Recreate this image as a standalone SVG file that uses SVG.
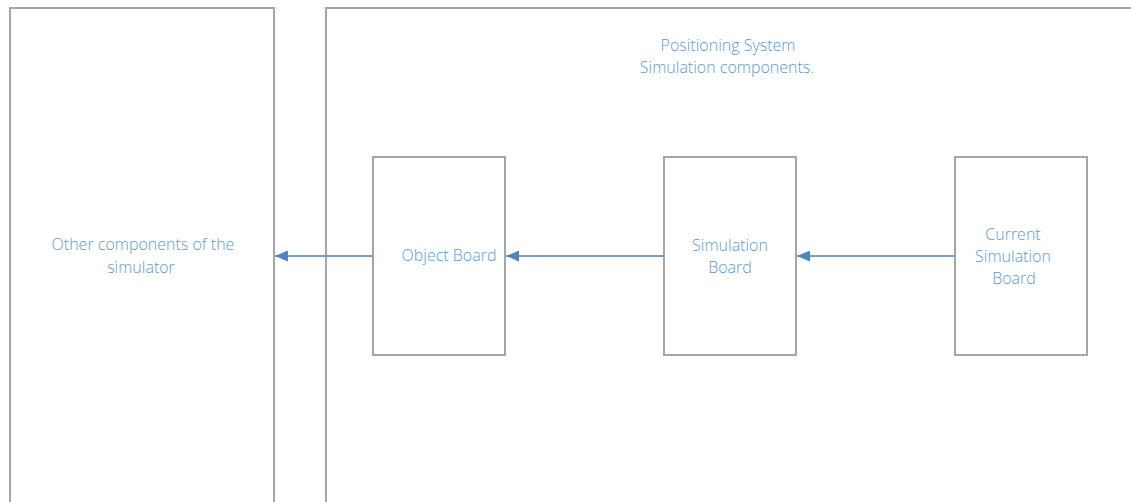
<svg xmlns="http://www.w3.org/2000/svg" width="1131" height="502" viewBox="0 0 1131 502">
<style>
.box{fill:#fff;stroke:#a6a6a6;stroke-width:2}
.lbl{font-family:"Open Sans","Liberation Sans",sans-serif;font-size:16px;font-weight:300;fill:#5b9bd5;text-anchor:middle}
.con{stroke:#7aa0c8;stroke-width:2;fill:none}
</style>
<defs>
<marker id="ah" viewBox="0 0 10 10" refX="10" refY="5" markerWidth="6.5" markerHeight="5.5" orient="auto" markerUnits="strokeWidth" preserveAspectRatio="none">
<path d="M10,5 L0,0 L0,10 Z" fill="#4f86c0"/>
</marker>
</defs>
<rect width="1131" height="502" fill="#fff"/>
<g id="other">
<rect class="box" x="10" y="8" width="264" height="510"/>
<text class="lbl" x="143" y="250">Other components of the</text>
<text class="lbl" x="141" y="273">simulator</text>
</g>
<g id="positioning">
<rect class="box" x="326" y="8" width="830" height="510"/>
<text class="lbl" x="728" y="51">Positioning System</text>
<text class="lbl" x="727" y="73">Simulation components.</text>
</g>
<g id="object-board">
<rect class="box" x="373" y="157" width="132" height="198"/>
<text class="lbl" x="449" y="261">Object Board</text>
</g>
<g id="simulation-board">
<rect class="box" x="664" y="157" width="132" height="198"/>
<text class="lbl" x="730" y="251">Simulation</text>
<text class="lbl" x="730" y="273">Board</text>
</g>
<g id="current-simulation-board">
<rect class="box" x="955" y="157" width="132" height="198"/>
<text class="lbl" x="1013" y="240">Current</text>
<text class="lbl" x="1013" y="262">Simulation</text>
<text class="lbl" x="1014" y="284">Board</text>
</g>
<g id="connectors">
<line class="con" x1="373" y1="256" x2="275" y2="256" marker-end="url(#ah)"/>
<line class="con" x1="664" y1="256" x2="506" y2="256" marker-end="url(#ah)"/>
<line class="con" x1="955" y1="256" x2="797" y2="256" marker-end="url(#ah)"/>
</g>
</svg>
